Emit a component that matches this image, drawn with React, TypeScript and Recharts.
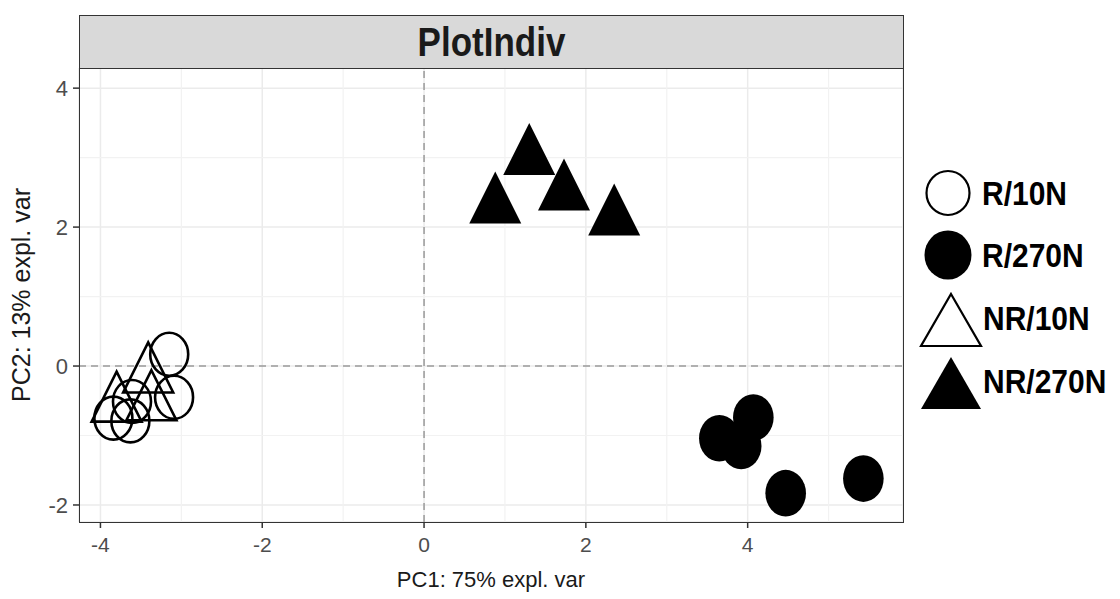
import React from 'react';
import { ScatterChart, Scatter, XAxis, YAxis, CartesianGrid, ReferenceLine } from 'recharts';

// ---- data ----
const groups = ['R/10N', 'R/270N', 'NR/10N', 'NR/270N'];
const r10nX = [-3.15, -3.09, -3.84, -3.63, -3.61];
const r10nY = [0.17, -0.45, -0.75, -0.79, -0.51];
const r270nX = [3.65, 4.07, 3.92, 4.47, 5.43];
const r270nY = [-1.04, -0.74, -1.15, -1.83, -1.62];
const nr10nX = [-3.80, -3.41, -3.37];
const nr10nY = [-0.56, -0.14, -0.54];
const nr270nX = [1.30, 0.88, 1.73, 2.35];
const nr270nY = [3.0, 2.30, 2.49, 2.13];
const xTicks = [-4, -2, 0, 2, 4];
const yTicks = [-2, 0, 2, 4];
const xMinor = [-3, -1, 1, 3, 5];
const yMinor = [-1, 1, 3];
const xDomain: [number, number] = [-4.265, 5.92];
const yDomain: [number, number] = [-2.245, 4.29];
const title = 'PlotIndiv';
const xLabel = 'PC1: 75% expl. var';
const yLabel = 'PC2: 13% expl. var';

const toPts = (xs: number[], ys: number[]) => xs.map((x, i) => ({ x, y: ys[i] }));
const r10n = toPts(r10nX, r10nY);
const r270n = toPts(r270nX, r270nY);
const nr10n = toPts(nr10nX, nr10nY);
const nr270n = toPts(nr270nX, nr270nY);

const FONT = '"Liberation Sans", Arial, Helvetica, sans-serif';

const CircleShape = (filled: boolean) => (props: any) => {
  const { cx, cy } = props;
  if (cx == null || cy == null) return <g />;
  return filled ? (
    <ellipse cx={cx} cy={cy} rx={20.3} ry={23.3} fill="#000" />
  ) : (
    <ellipse cx={cx} cy={cy} rx={19} ry={21.5} fill="none" stroke="#000" strokeWidth={2.6} />
  );
};

const TriShape = (filled: boolean) => (props: any) => {
  const { cx, cy } = props;
  if (cx == null || cy == null) return <g />;
  const h = filled ? 52 : 50;
  const w = filled ? 52 : 50;
  const d = `M${cx},${cy - (2 * h) / 3} L${cx + w / 2},${cy + h / 3} L${cx - w / 2},${cy + h / 3} Z`;
  return filled ? (
    <path d={d} fill="#000" />
  ) : (
    <path d={d} fill="none" stroke="#000" strokeWidth={2.6} strokeLinejoin="miter" />
  );
};

const legendIcon = (i: number) => {
  if (i === 0) return <ellipse cx={28} cy={24} rx={21.5} ry={22} fill="#fff" stroke="#000" strokeWidth={2.2} />;
  if (i === 1) return <ellipse cx={28} cy={24} rx={23.5} ry={24.5} fill="#000" />;
  if (i === 2) return <path d="M28,-1 L58,51 L-2,51 Z" fill="#fff" stroke="#000" strokeWidth={2.2} />;
  return <path d="M28,-1 L58,51 L-2,51 Z" fill="#000" />;
};

const legendCenters = [193, 255, 318, 381];

const LegendBox = () => (
  <div style={{ position: 'absolute', left: 914, top: 0, width: 206, height: 599, pointerEvents: 'none' }}>
    {groups.map((g, i) => (
      <div key={g} style={{ position: 'absolute', left: 0, top: legendCenters[i] - 27, height: 54, display: 'flex', alignItems: 'center' }}>
        <svg width={62} height={54} style={{ overflow: 'visible' }}>
          <g transform={i >= 2 ? 'translate(9,4)' : 'translate(6,3)'}>{legendIcon(i)}</g>
        </svg>
        <span style={{ fontFamily: FONT, fontWeight: 'bold', fontSize: 30, color: '#000', marginLeft: i >= 2 ? 7 : 6, marginTop: 2, whiteSpace: 'nowrap', display: 'inline-block', transform: 'scaleY(1.08)' }}>{g}</span>
      </div>
    ))}
  </div>
);

const YLabelContent = (props: any) => {
  const vb = props.viewBox || {};
  const x = 21;
  const y = (vb.y ?? 68) + (vb.height ?? 454) / 2;
  return (
    <text x={x} y={y} transform={`rotate(-90, ${x}, ${y})`} textAnchor="middle" dominantBaseline="central" fontFamily={FONT} fontSize={25} fill="#1a1a1a">
      {yLabel}
    </text>
  );
};

export default function App() {
  return (
    <div style={{ position: 'absolute', left: 0, top: 0, width: 1120, height: 599, background: '#fff' }}>
      <ScatterChart width={1120} height={599} margin={{ top: 68, right: 217, bottom: 0, left: 0 }}>
        <CartesianGrid stroke="#ebebeb" strokeWidth={1.5} />
        {xMinor.map((v) => (
          <ReferenceLine key={'xm' + v} x={v} stroke="#f2f2f2" strokeWidth={1.2} />
        ))}
        {yMinor.map((v) => (
          <ReferenceLine key={'ym' + v} y={v} stroke="#f2f2f2" strokeWidth={1.2} />
        ))}
        <ReferenceLine x={0} stroke="#9a9a9a" strokeWidth={1.5} strokeDasharray="7 5" />
        <ReferenceLine y={0} stroke="#9a9a9a" strokeWidth={1.5} strokeDasharray="7 5" />
        <XAxis
          type="number"
          dataKey="x"
          domain={xDomain}
          ticks={xTicks}
          allowDataOverflow
          height={77}
          axisLine={false}
          tickLine={{ stroke: '#333', strokeWidth: 1.5 }}
          tickSize={6}
          tickMargin={9}
          tick={{ fill: '#4d4d4d', fontSize: 21, fontFamily: FONT }}
          label={{ value: xLabel, position: 'insideBottom', offset: 12, fill: '#1a1a1a', fontSize: 22, fontFamily: FONT }}
        />
        <YAxis
          type="number"
          dataKey="y"
          domain={yDomain}
          ticks={yTicks}
          allowDataOverflow
          width={79}
          axisLine={false}
          tickLine={{ stroke: '#333', strokeWidth: 1.5 }}
          tickSize={6}
          tickMargin={5}
          tick={{ fill: '#4d4d4d', fontSize: 22, fontFamily: FONT }}
          label={{ content: YLabelContent }}
        />
        <Scatter name="R/270N" data={r270n} isAnimationActive={false} shape={CircleShape(true)} />
        <Scatter name="NR/270N" data={nr270n} isAnimationActive={false} shape={TriShape(true)} />
        <Scatter name="R/10N" data={r10n} isAnimationActive={false} shape={CircleShape(false)} />
        <Scatter name="NR/10N" data={nr10n} isAnimationActive={false} shape={TriShape(false)} />
      </ScatterChart>
      <LegendBox />
      {/* panel border */}
      <div style={{ position: 'absolute', left: 79, top: 67, width: 825, height: 456, border: '1.5px solid #333', boxSizing: 'border-box', pointerEvents: 'none' }} />
      {/* facet strip */}
      <div
        style={{
          position: 'absolute', left: 79, top: 15, width: 825, height: 54, background: '#d9d9d9', border: '1.5px solid #333', boxSizing: 'border-box',
          display: 'flex', alignItems: 'center', justifyContent: 'center', fontFamily: FONT, fontWeight: 'bold', fontSize: 35, color: '#1a1a1a',
        }}
      >
        <span style={{ display: 'inline-block', transform: 'scaleY(1.15)' }}>{title}</span>
      </div>
    </div>
  );
}
